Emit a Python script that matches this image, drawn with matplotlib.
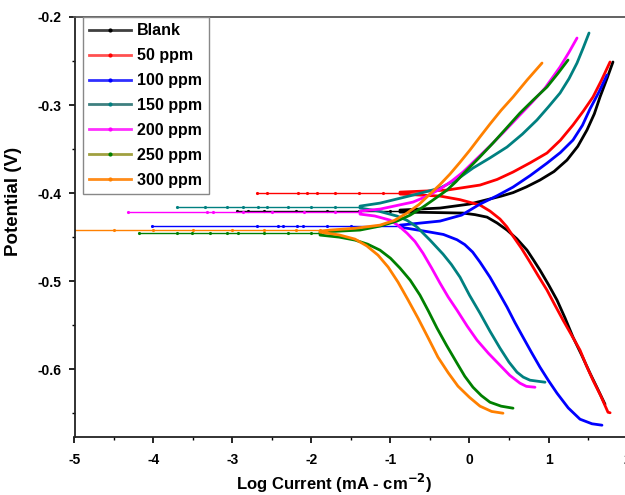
import numpy as np
import matplotlib
matplotlib.use('Agg')
import matplotlib.pyplot as plt
from matplotlib.lines import Line2D

plt.rcParams['font.family'] = ['Liberation Sans', 'DejaVu Sans']
plt.rcParams['font.weight'] = 'bold'

labels = ['Blank', '50 ppm', '100 ppm', '150 ppm', '200 ppm', '250 ppm', '300 ppm']

# log current / potential, cathodic branch (bottom -> Ecorr)
# then anodic branch (Ecorr -> top); spike = the points along Ecorr to the left
blank_cat_i = [1.715, 1.62, 1.525, 1.42, 1.310, 1.21, 1.108, 1.0, 0.892, 0.81, 0.728, 0.60,
               0.475, 0.35, 0.222, 0.07, -0.082, -0.5, -0.880]
blank_cat_e = [-0.6398, -0.622, -0.6045, -0.584, -0.5636, -0.542, -0.5216, -0.504, -0.4875,
               -0.476, -0.4648, -0.452, -0.4420, -0.434, -0.4273, -0.4245, -0.4227, -0.422, -0.4216]
blank_an_i = [-0.880, -0.373, 0.0, 0.222, 0.40, 0.551, 0.72, 0.892, 1.07, 1.234, 1.37, 1.487,
              1.58, 1.652, 1.74, 1.816]
blank_an_e = [-0.4193, -0.4170, -0.4125, -0.4075, -0.4035, -0.3995, -0.393, -0.3852, -0.3755,
              -0.3625, -0.347, -0.3284, -0.310, -0.2909, -0.270, -0.2511]
blank_ecorr = -0.4205
blank_spike = [-2.94, -2.80, -2.60, -2.20, -1.80, -1.40, -1.00]

p50_cat_i = [1.78, 1.753, 1.66, 1.563, 1.48, 1.399, 1.29, 1.184, 1.08, 0.981, 0.87, 0.766, 0.66,
             0.551, 0.47, 0.386, 0.26, 0.133, -0.12, -0.373, -0.880]
p50_cat_e = [-0.6495, -0.6489, -0.630, -0.6125, -0.596, -0.5784, -0.561, -0.5443, -0.527, -0.5102,
             -0.494, -0.4784, -0.463, -0.4489, -0.438, -0.4295, -0.4205, -0.4136, -0.4075, -0.4034,
             -0.4011]
p50_an_i = [-0.880, -0.285, 0.133, 0.35, 0.551, 0.77, 0.981, 1.15, 1.310, 1.44, 1.563, 1.67, 1.779]
p50_an_e = [-0.3989, -0.3966, -0.3909, -0.3845, -0.3761, -0.3655, -0.3545, -0.340, -0.3227,
            -0.307, -0.2909, -0.272, -0.2511]
p50_ecorr = -0.4000
p50_spike = [-2.69, -2.56, -2.17, -2.06, -1.93, -1.70, -1.40, -1.10]

p100_cat_i = [1.677, 1.55, 1.399, 1.25, 1.108, 1.0, 0.892, 0.785, 0.677, 0.575, 0.475, 0.365,
              0.259, 0.133, 0.04, -0.06, -0.158, -0.33, -0.500, -0.880]
p100_cat_e = [-0.6636, -0.662, -0.6568, -0.644, -0.6273, -0.613, -0.5977, -0.581, -0.5636, -0.547,
              -0.5295, -0.512, -0.4955, -0.4784, -0.467, -0.4585, -0.4530, -0.4470, -0.4443, -0.4386]
p100_an_i = [-0.880, -0.373, -0.1, 0.133, 0.35, 0.551, 0.77, 0.981, 1.15, 1.310, 1.43, 1.525,
             1.64, 1.741]
p100_an_e = [-0.4364, -0.4318, -0.425, -0.4125, -0.403, -0.3932, -0.380, -0.3660, -0.354, -0.3398,
             -0.323, -0.3045, -0.285, -0.2659]
p100_ecorr = -0.4375
p100_spike = [-4.02, -2.69, -2.42, -2.36, -2.18, -2.11, -1.80, -1.50, -1.20]

p150_cat_i = [0.956, 0.766, 0.68, 0.601, 0.50, 0.386, 0.26, 0.133, 0.0, -0.120, -0.23, -0.335,
              -0.500, -0.665, -0.79, -0.918, -1.15, -1.386]
p150_cat_e = [-0.6148, -0.6125, -0.609, -0.6034, -0.592, -0.5761, -0.557, -0.5364, -0.516, -0.4955,
              -0.481, -0.4693, -0.4534, -0.4385, -0.431, -0.4261, -0.4205, -0.4170]
p150_an_i = [-1.386, -1.133, -0.715, -0.373, -0.15, 0.044, 0.26, 0.475, 0.67, 0.854, 1.0, 1.146,
             1.26, 1.361, 1.44, 1.513]
p150_an_e = [-0.4148, -0.4114, -0.4023, -0.3943, -0.384, -0.3716, -0.360, -0.3477, -0.333, -0.3170,
             -0.302, -0.2864, -0.270, -0.2523, -0.235, -0.2182]
p150_ecorr = -0.4159
p150_spike = [-3.70, -3.35, -3.07, -2.87, -2.68, -2.56, -2.30, -2.00, -1.70]

p200_cat_i = [0.829, 0.72, 0.639, 0.51, 0.386, 0.24, 0.095, -0.03, -0.158, -0.27, -0.373, -0.48,
              -0.589, -0.69, -0.791, -0.90, -1.006, -1.2, -1.386]
p200_cat_e = [-0.6205, -0.6195, -0.6159, -0.607, -0.5955, -0.582, -0.5670, -0.551, -0.5330, -0.518,
              -0.5023, -0.485, -0.4682, -0.455, -0.4455, -0.437, -0.4307, -0.426, -0.4239]
p200_an_i = [-1.386, -1.133, -0.715, -0.55, -0.373, -0.22, -0.082, 0.08, 0.259, 0.43, 0.601, 0.78,
             0.956, 1.146, 1.26, 1.361]
p200_an_e = [-0.4205, -0.4182, -0.4102, -0.404, -0.3955, -0.386, -0.3761, -0.362, -0.3466, -0.331,
             -0.3148, -0.298, -0.2807, -0.2568, -0.240, -0.2239]
p200_ecorr = -0.4216
p200_spike = [-4.32, -3.32, -3.25, -2.87, -2.50, -2.10, -1.70]

p250_cat_i = [0.551, 0.40, 0.259, 0.15, 0.044, -0.06, -0.158, -0.29, -0.411, -0.52, -0.627, -0.75,
              -0.880, -1.0, -1.133, -1.29, -1.449, -1.65, -1.892]
p250_cat_e = [-0.6443, -0.642, -0.6375, -0.630, -0.6205, -0.608, -0.5932, -0.573, -0.5534, -0.534,
              -0.5159, -0.499, -0.4852, -0.474, -0.4648, -0.458, -0.4534, -0.4500, -0.4477]
p250_an_i = [-1.892, -1.386, -1.133, -0.918, -0.75, -0.589, -0.44, -0.285, -0.17, -0.057, 0.12,
             0.297, 0.47, 0.639, 0.81, 0.981, 1.12, 1.247]
p250_an_e = [-0.4443, -0.4420, -0.4375, -0.4318, -0.425, -0.4159, -0.4065, -0.3966, -0.387, -0.3761,
             -0.360, -0.3432, -0.326, -0.3091, -0.294, -0.2795, -0.264, -0.2489]
p250_ecorr = -0.4455
p250_spike = [-4.18, -3.70, -3.51, -3.28, -3.07, -2.93, -2.60, -2.30, -2.00]

p300_cat_i = [0.424, 0.28, 0.133, 0.0, -0.146, -0.27, -0.399, -0.52, -0.652, -0.78, -0.905, -1.03,
              -1.158, -1.30, -1.449, -1.65, -1.892]
p300_cat_e = [-0.6500, -0.648, -0.6420, -0.632, -0.6193, -0.604, -0.5864, -0.565, -0.5420, -0.521,
              -0.5011, -0.484, -0.4705, -0.460, -0.4523, -0.4475, -0.4443]
p300_an_i = [-1.892, -1.766, -1.45, -1.133, -0.95, -0.791, -0.64, -0.500, -0.37, -0.247, -0.12,
             0.006, 0.13, 0.259, 0.40, 0.551, 0.73, 0.918]
p300_an_e = [-0.4432, -0.4420, -0.440, -0.4364, -0.431, -0.4227, -0.413, -0.4011, -0.390, -0.3784,
             -0.365, -0.3511, -0.3365, -0.3216, -0.306, -0.2909, -0.2715, -0.2523]
p300_ecorr = -0.4420
p300_spike = [-5.00, -4.50, -4.00, -3.50, -3.00, -2.60, -2.20]

curve_colors = ['#000000', '#ff0000', '#0000ff', '#008080', '#ff00ff', '#008000', '#ff8000']
legend_line_colors = ['#404040', '#ff5050', '#3030ff', '#3f8080', '#ff30ff', '#a0a040', '#ff8c1a']

curves = [
    (blank_cat_i, blank_cat_e, blank_an_i, blank_an_e, blank_ecorr, blank_spike),
    (p50_cat_i, p50_cat_e, p50_an_i, p50_an_e, p50_ecorr, p50_spike),
    (p100_cat_i, p100_cat_e, p100_an_i, p100_an_e, p100_ecorr, p100_spike),
    (p150_cat_i, p150_cat_e, p150_an_i, p150_an_e, p150_ecorr, p150_spike),
    (p200_cat_i, p200_cat_e, p200_an_i, p200_an_e, p200_ecorr, p200_spike),
    (p250_cat_i, p250_cat_e, p250_an_i, p250_an_e, p250_ecorr, p250_spike),
    (p300_cat_i, p300_cat_e, p300_an_i, p300_an_e, p300_ecorr, p300_spike),
]

fig = plt.figure(figsize=(6.25, 4.95), dpi=100)
ax = fig.add_axes([0.1192, 0.1172, 0.8848, 0.8485])

for (ci, ce, ai, ae, ec, sp), col in zip(curves, curve_colors):
    # spike along Ecorr
    ax.plot(sp + [ci[-1]], [ec] * (len(sp) + 1), color=col, lw=1.0,
            marker='.', ms=2.5)
    # cathodic + anodic branches
    ax.plot(ci + ai, ce + ae, color=col, lw=2.0, solid_capstyle='round',
            solid_joinstyle='round')

ax.set_xlim(-5, 2)
ax.set_ylim(-0.677, -0.2)
ax.set_xticks(np.arange(-5, 3, 1))
ax.set_xticks(np.arange(-5, 2.01, 0.5), minor=True)
ax.set_yticks([-0.2, -0.3, -0.4, -0.5, -0.6])
ax.set_yticks(np.arange(-0.65, -0.19, 0.05), minor=True)
ax.set_yticklabels(['-0.2', '-0.3', '-0.4', '-0.5', '-0.6'])
ax.set_xticklabels([str(v) for v in range(-5, 3)])

ax.tick_params(axis='both', which='major', direction='out', length=4.5, width=1.2,
               labelsize=10, pad=5)
ax.tick_params(axis='x', which='major', pad=7)
ax.tick_params(axis='both', which='minor', direction='out', length=2.5, width=1.0)
for s in ['left', 'bottom']:
    ax.spines[s].set_linewidth(1.3)
    ax.spines[s].set_color('#222222')
ax.spines['top'].set_linewidth(1.3)
ax.spines['top'].set_color('#555555')
ax.spines['right'].set_visible(False)

ax.set_xlabel('Log Current (mA - cm$^{\\mathbf{-2}}$)', fontsize=12, fontweight='bold')
ax.set_ylabel('Potential (V)', fontsize=13.5, fontweight='bold')
ax.xaxis.set_label_coords(0.47, -0.082)
ax.yaxis.set_label_coords(-0.095, 0.562)

handles = []
for lc, mc in zip(legend_line_colors, curve_colors):
    handles.append(Line2D([], [], color=lc, lw=2.0, marker='.', ms=4,
                          markerfacecolor=mc, markeredgecolor=mc))
leg = ax.legend(handles, labels, loc='upper left', bbox_to_anchor=(0.015, 1.0),
                borderaxespad=0, frameon=True, fancybox=False, framealpha=1,
                edgecolor='#888888', fontsize=11.5, handlelength=2.6,
                handletextpad=0.4, labelspacing=0.62, borderpad=0.4, numpoints=1)
leg.get_frame().set_linewidth(1.0)
for t in leg.get_texts():
    t.set_fontweight('bold')

fig.savefig('out.png', dpi=100)
